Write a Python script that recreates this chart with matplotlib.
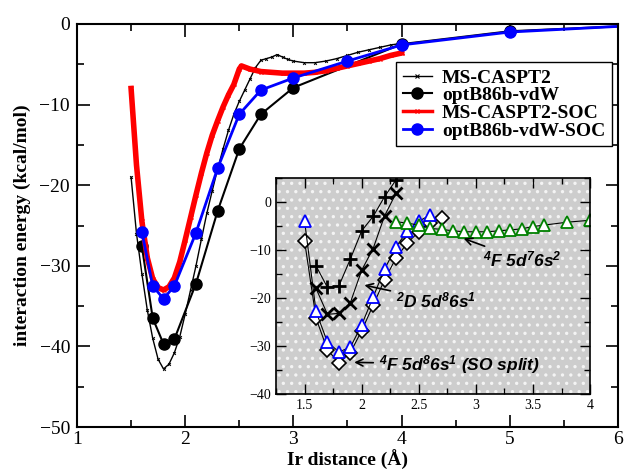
import matplotlib
matplotlib.use("Agg")
import matplotlib.pyplot as plt
from matplotlib.lines import Line2D
from matplotlib.patches import Rectangle
from matplotlib.ticker import MultipleLocator

plt.rcParams['font.family'] = ['Liberation Serif', 'DejaVu Serif']
plt.rcParams['mathtext.fontset'] = 'custom'
plt.rcParams['mathtext.rm'] = 'Liberation Sans:bold:italic'
plt.rcParams['mathtext.it'] = 'Liberation Sans:bold:italic'
plt.rcParams['hatch.linewidth'] = 1.2

# main panel: MS-CASPT2 (dense scan)
cas_x = [1.5, 1.55, 1.6, 1.65, 1.7, 1.75, 1.8, 1.85, 1.9, 1.95, 2.0, 2.05, 2.1,
         2.15, 2.2, 2.25, 2.3, 2.35, 2.4, 2.45, 2.5, 2.55, 2.6, 2.65, 2.7, 2.75,
         2.8, 2.85, 2.9, 2.95, 3.0, 3.1, 3.2, 3.3, 3.4, 3.5, 3.6, 3.7, 3.8, 3.9, 4.0]
cas_y = [-19, -26, -31, -35.5, -39, -41.6, -42.8, -42.2, -40.8, -38.8, -36, -33, -30,
         -26.7, -23.5, -20.7, -18, -15.5, -13.2, -11.2, -9.6, -8.2, -6.8, -5.4, -4.5, -4.3,
         -4.1, -3.8, -4.1, -4.4, -4.6, -4.8, -4.8, -4.6, -4.3, -3.9, -3.5, -3.2, -2.9, -2.6, -2.4]

# MS-CASPT2-SOC
soc_x = [1.5, 1.55, 1.6, 1.65, 1.7, 1.75, 1.8, 1.85, 1.9, 1.95, 2.0, 2.05, 2.1,
         2.15, 2.2, 2.25, 2.3, 2.35, 2.4, 2.45, 2.5, 2.52, 2.6, 2.7, 2.8, 2.9, 3.0,
         3.1, 3.2, 3.3, 3.4, 3.5, 3.6, 3.7, 3.8, 3.9, 4.0]
soc_y = [-8, -17.5, -24.5, -29, -31.6, -32.7, -33, -32.6, -31.5, -29.5, -26.8, -24, -21.2,
         -18.5, -16, -13.8, -12, -10.3, -8.8, -7.5, -5.6, -5.2, -5.6, -5.9, -6.0, -6.1, -6.1,
         -6.1, -6.0, -5.8, -5.5, -5.2, -4.9, -4.6, -4.3, -3.9, -3.6]

# optB86b-vdW
vdw_x = [1.6, 1.7, 1.8, 1.9, 2.1, 2.3, 2.5, 2.7, 3.0, 4.0, 5.0, 6.0]
vdw_y = [-27.6, -36.5, -39.7, -39.1, -32.2, -23.2, -15.5, -11.2, -7.9, -2.5, -0.9, -0.3]

# optB86b-vdW-SOC
vdws_x = [1.6, 1.7, 1.8, 1.9, 2.1, 2.3, 2.5, 2.7, 3.0, 3.5, 4.0, 5.0, 6.0]
vdws_y = [-25.8, -32.5, -34.1, -32.5, -25.9, -17.9, -11.2, -8.2, -6.7, -4.6, -2.6, -1.0, -0.3]

# inset series
plus_x = [1.6, 1.7, 1.8, 1.9, 2.0, 2.1, 2.2, 2.3]
plus_y = [-13.3, -17.8, -17.5, -11.9, -6.0, -3.0, 1.1, 4.6]
cross_x = [1.6, 1.7, 1.8, 1.9, 2.0, 2.1, 2.2, 2.3]
cross_y = [-18.0, -23.4, -23.2, -21.0, -14.2, -9.7, -2.9, 1.8]
dia_x = [1.5, 1.6, 1.7, 1.8, 1.9, 2.0, 2.1, 2.2, 2.3, 2.4, 2.5, 2.6, 2.7]
dia_y = [-8.2, -24.2, -30.8, -33.5, -31.4, -26.8, -21.5, -16.2, -11.7, -8.5, -6.2, -4.3, -3.4]
tri_x = [1.5, 1.6, 1.7, 1.8, 1.9, 2.0, 2.1, 2.2, 2.3, 2.4, 2.5, 2.6]
tri_y = [-4.0, -22.8, -29.2, -31.2, -30.3, -25.6, -19.8, -14.0, -9.4, -6.0, -4.0, -2.7]
grn_x = [2.3, 2.4, 2.5, 2.6, 2.7, 2.8, 2.9, 3.0, 3.1, 3.2, 3.3, 3.4, 3.5, 3.6, 3.8, 4.0]
grn_y = [-4.1, -4.4, -4.8, -5.5, -5.7, -6.0, -6.2, -6.2, -6.2, -6.0, -5.8, -5.6, -5.1, -4.8, -4.2, -3.8]

fig = plt.figure(figsize=(6.26, 4.75), dpi=100)
ax = fig.add_axes([0.123, 0.101, 0.864, 0.8485])

ax.plot(cas_x, cas_y, color='black', lw=1.0, marker='x', ms=2.0, mew=0.7)
ax.plot(vdw_x, vdw_y, color='black', lw=1.5, marker='o', ms=8, markevery=slice(0, -1))
ax.plot(soc_x, soc_y, color='red', lw=4.0, marker='x', ms=3.5, mew=1.0)
ax.plot(vdws_x, vdws_y, color='blue', lw=2.0, marker='o', ms=8, markevery=slice(0, -1))

ax.set_xlim(1, 6)
ax.set_ylim(-50, 0)
ax.xaxis.set_major_locator(MultipleLocator(1))
ax.xaxis.set_minor_locator(MultipleLocator(0.5))
ax.yaxis.set_major_locator(MultipleLocator(10))
ax.yaxis.set_minor_locator(MultipleLocator(5))
ax.tick_params(which='both', direction='in', top=True, right=True, labelsize=14, width=1.2)
ax.tick_params(which='major', length=9, pad=3)
ax.tick_params(which='minor', length=5)
ax.tick_params(axis='y', which='major', pad=5)
for s in ax.spines.values():
    s.set_linewidth(1.5)
ax.set_xlabel('Ir distance (Å)', fontsize=14, fontweight='bold', labelpad=1)
ax.set_ylabel('interaction energy (kcal/mol)', fontsize=14, fontweight='bold', labelpad=6)

handles = [
    Line2D([], [], color='black', lw=1.0, marker='x', ms=3, mew=0.8),
    Line2D([], [], color='black', lw=1.5, marker='o', ms=8),
    Line2D([], [], color='red', lw=2.5, marker='x', ms=3.5, mew=1.0),
    Line2D([], [], color='blue', lw=2.0, marker='o', ms=8),
]
labels = ['MS-CASPT2', 'optB86b-vdW', 'MS-CASPT2-SOC', 'optB86b-vdW-SOC']
leg = ax.legend(handles, labels, loc='upper left', bbox_to_anchor=(0.59, 0.905),
                prop={'family': 'Liberation Serif', 'weight': 'bold', 'size': 14},
                fancybox=False, edgecolor='black', framealpha=1, labelspacing=0.0,
                handlelength=1.5, handletextpad=0.5, borderpad=0.35, borderaxespad=0)
leg.get_frame().set_linewidth(1.0)

# inset
ins = fig.add_axes([0.441, 0.1705, 0.5016, 0.4547])
ins.set_facecolor('#cdcdcd')
ins.add_patch(Rectangle((0, 0), 1, 1, transform=ins.transAxes, facecolor='none',
                        edgecolor='#f4f4f4', hatch='..', lw=0, zorder=0))
ins.plot(plus_x, plus_y, color='black', lw=0.8, marker='+', ms=10, mew=2)
ins.plot(cross_x, cross_y, color='black', lw=0.8, marker='x', ms=8, mew=2)
ins.plot(dia_x, dia_y, color='black', lw=0.8, marker='D', ms=7, mfc='white', mec='black', mew=1.2)
ins.plot(tri_x, tri_y, color='black', lw=0.8, marker='^', ms=9, mfc='white', mec='blue', mew=1.3)
ins.plot(grn_x, grn_y, color='black', lw=0.8, marker='^', ms=9, mfc='white', mec='green', mew=1.3)

ins.set_xlim(1.25, 4.0)
ins.set_ylim(-40, 5)
ins.set_xticks([1.5, 2, 2.5, 3, 3.5, 4])
ins.set_xticklabels(['1.5', '2', '2.5', '3', '3.5', '4'])
ins.xaxis.set_minor_locator(MultipleLocator(0.25))
ins.yaxis.set_major_locator(MultipleLocator(10))
ins.yaxis.set_minor_locator(MultipleLocator(5))
ins.tick_params(which='both', direction='in', top=True, right=True, labelsize=10, width=1.0)
ins.tick_params(which='major', length=7)
ins.tick_params(which='minor', length=4)
for s in ins.spines.values():
    s.set_linewidth(1.2)

afont = dict(family='Liberation Sans', weight='bold', style='italic', fontsize=12.5)
arrow = dict(arrowstyle='->', color='black', lw=1.2)
ins.annotate('$^4$F 5d$^7$6s$^2$', xy=(2.87, -7.4), xytext=(3.06, -13.5), arrowprops=arrow, **afont)
ins.annotate('$^2$D 5d$^8$6s$^1$', xy=(2.0, -17.2), xytext=(2.3, -22.0), arrowprops=arrow, **afont)
ins.annotate('$^4$F 5d$^8$6s$^1$ (SO split)', xy=(1.91, -33.4), xytext=(2.15, -35.0), arrowprops=arrow, **afont)

fig.savefig('out.png', dpi=100)
